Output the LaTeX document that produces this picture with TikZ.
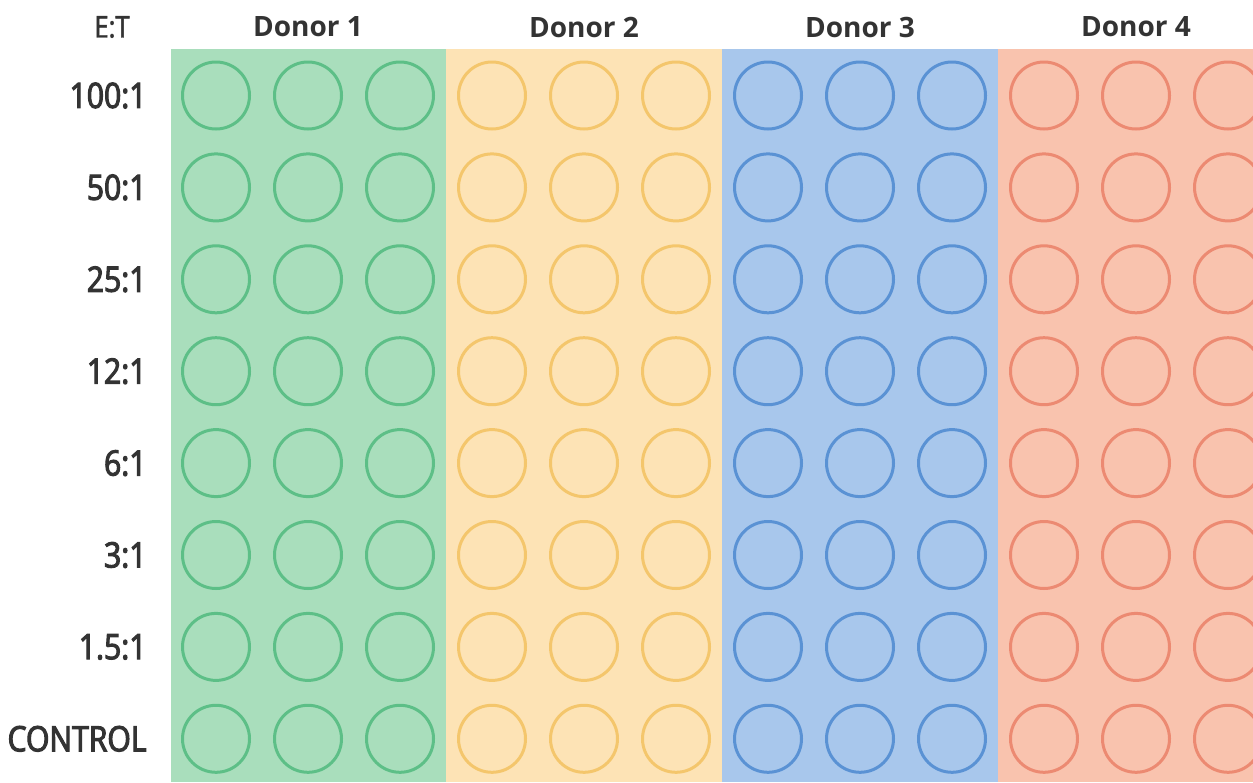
\documentclass[tikz,border=0pt]{standalone}
\usepackage{fontspec}
\setmainfont{Open Sans}
\newfontfamily\rowfont[FakeStretch=0.86,FakeBold=3]{Open Sans}
\definecolor{txt}{HTML}{333333}
\definecolor{gfill}{HTML}{A9DEBC}\definecolor{gline}{HTML}{5DBF87}
\definecolor{yfill}{HTML}{FDE3B5}\definecolor{yline}{HTML}{F4C66C}
\definecolor{bfill}{HTML}{A8C7EC}\definecolor{bline}{HTML}{5A92D4}
\definecolor{rfill}{HTML}{F9C3AE}\definecolor{rline}{HTML}{EC8A72}
\tikzset{
  well/.style={circle, draw=#1, line width=3pt, minimum size=67pt, inner sep=0pt},
  rowlab/.style={anchor=east, text=txt, font=\rowfont\fontsize{35}{35}\selectfont},
  donorlab/.style={text=txt, font=\bfseries\fontsize{28}{28}\selectfont},
  etlab/.style={text=txt, font=\fontsize{30}{30}\selectfont\addfontfeature{FakeStretch=0.85,FakeBold=1.5}}
}
\begin{document}
\begin{tikzpicture}[x=1pt,y=-1pt]
\useasboundingbox (0,0) rectangle (1253,782);
\fill[white] (0,0) rectangle (1253,782);
% bands
\fill[gfill] (171,49) rectangle (446,782);
\fill[yfill] (446,49) rectangle (722,782);
\fill[bfill] (722,49) rectangle (998,782);
\fill[rfill] (998,49) rectangle (1253,782);
% wells
\foreach \d/\c in {0/gline,1/yline,2/bline,3/rline}{
  \foreach \k in {0,1,2}{
    \foreach \r in {0,...,7}{
      \pgfmathsetmacro{\xx}{216+92*(3*\d+\k)}
      \pgfmathsetmacro{\yy}{95.5+91.9*\r}
      \node[well=\c] (w-\d-\k-\r) at (\xx,\yy) {};
    }
  }
}
% header
\node[etlab] (et) at (112,27) {E:T};
\node[donorlab] (d1) at (308,27) {Donor 1};
\node[donorlab] (d2) at (584,27) {Donor 2};
\node[donorlab] (d3) at (860,27) {Donor 3};
\node[donorlab] (d4) at (1136,27) {Donor 4};
% row labels
\foreach \r/\t in {0/100:1,1/50:1,2/25:1,3/12:1,4/6:1,5/3:1,6/1.5:1,7/CONTROL}{
  \pgfmathsetmacro{\yy}{95.5+91.9*\r}
  \node[rowlab] (r-\r) at (150,\yy) {\t};
}
\end{tikzpicture}
\end{document}
